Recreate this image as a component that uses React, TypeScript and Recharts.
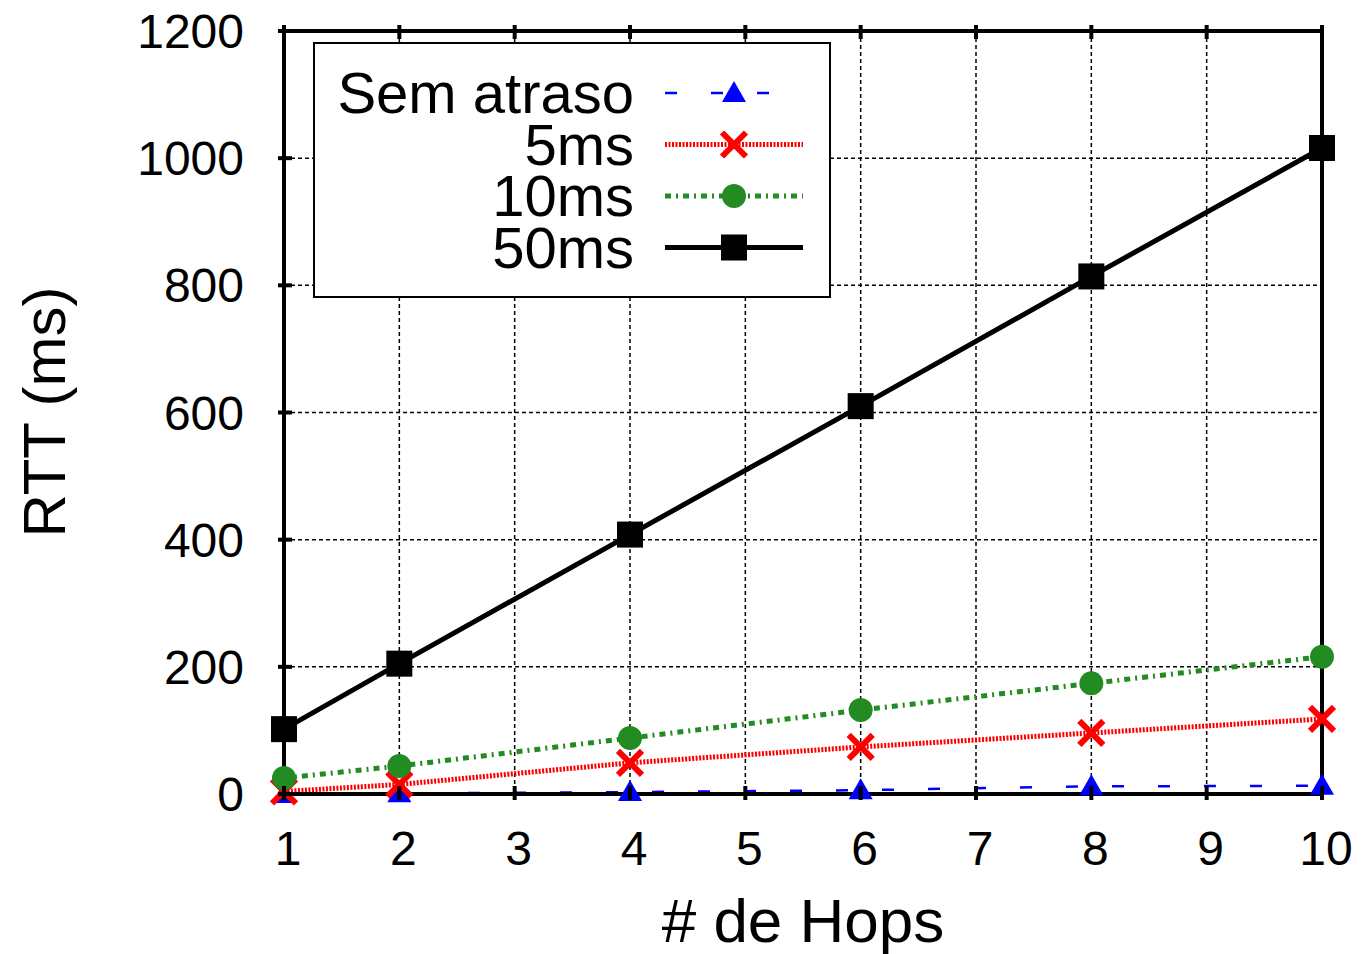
import { LineChart, Line, XAxis, YAxis, CartesianGrid } from "recharts";

const hops = [1, 2, 4, 6, 8, 10];
const semAtraso = [0, 1, 3, 6, 12, 13];
const ms5 = [4, 15, 49, 74, 96, 118];
const ms10 = [25, 44, 88, 132, 174, 216];
const ms50 = [102, 205, 408, 610, 814, 1016];

const xTicks = [1, 2, 3, 4, 5, 6, 7, 8, 9, 10];
const yTicks = [0, 200, 400, 600, 800, 1000, 1200];

const FONT = "'Liberation Sans', Arial, Helvetica, sans-serif";

const data = hops.map((h, i) => ({
  hop: h,
  sem: semAtraso[i],
  ms5: ms5[i],
  ms10: ms10[i],
  ms50: ms50[i],
}));

const Triangle = ({ cx, cy }: any) => (
  <polygon points={`${cx},${cy - 12} ${cx - 12},${cy + 9} ${cx + 12},${cy + 9}`} fill="#0000ff" />
);
const Cross = ({ cx, cy }: any) => (
  <g stroke="#ff0000" strokeWidth={6}>
    <line x1={cx - 12} y1={cy - 12} x2={cx + 12} y2={cy + 12} />
    <line x1={cx - 12} y1={cy + 12} x2={cx + 12} y2={cy - 12} />
  </g>
);
const Circle = ({ cx, cy }: any) => <circle cx={cx} cy={cy} r={12} fill="#228b22" />;
const Square = ({ cx, cy }: any) => <rect x={cx - 13} y={cy - 13} width={26} height={26} fill="#000" />;

const dotFn = (Comp: any) => (props: any) => <Comp key={props.key ?? `${props.cx}-${props.index}`} cx={props.cx} cy={props.cy} />;

const XTick = ({ x, y, payload }: any) => (
  <g>
    <line x1={x} y1={y - 2} x2={x} y2={y - 16} stroke="#000" strokeWidth={4} />
    <text x={x + 4} y={y + 63} textAnchor="middle" fontSize={48} fontFamily={FONT} fill="#000">
      {payload.value}
    </text>
  </g>
);

const YTick = ({ x, y, payload }: any) => (
  <g>
    <line x1={x + 2} y1={y} x2={x + 16} y2={y} stroke="#000" strokeWidth={4} />
    <text x={x - 32} y={y + 17} textAnchor="end" fontSize={48} fontFamily={FONT} fill="#000">
      {payload.value}
    </text>
  </g>
);

const XTopTick = ({ x, y }: any) => (
  <line x1={x} y1={y + 2} x2={x} y2={y + 16} stroke="#000" strokeWidth={4} />
);
const YRightTick = ({ x, y }: any) => (
  <line x1={x - 2} y1={y} x2={x - 16} y2={y} stroke="#000" strokeWidth={4} />
);

const legendRows = [
  { label: "Sem atraso", color: "#0000ff", dash: "12 34", width: 2.5, Marker: Triangle },
  { label: "5ms", color: "#ff0000", dash: "2 1.5", width: 5, Marker: Cross },
  { label: "10ms", color: "#228b22", dash: "6 5 2 5", width: 5, Marker: Circle },
  { label: "50ms", color: "#000000", dash: undefined, width: 5, Marker: Square },
];

const LegendBox = ({ x, y }: { x: number; y: number }) => (
  <g transform={`translate(${x},${y})`}>
    <rect x={1} y={1} width={516} height={254} fill="#fff" stroke="#000" strokeWidth={2} />
    {legendRows.map((r, i) => {
      const cy = 51 + i * 51.5;
      return (
        <g key={r.label}>
          <text x={321} y={cy + 20} textAnchor="end" fontSize={58} fontFamily={FONT} fill="#000">
            {r.label}
          </text>
          <line x1={352} y1={cy} x2={490} y2={cy} stroke={r.color} strokeWidth={r.width} strokeDasharray={r.dash} />
          <r.Marker cx={421} cy={cy} />
        </g>
      );
    })}
  </g>
);

export default function App() {
  return (
    <div style={{ position: "relative", width: 1353, height: 946, fontFamily: FONT }}>
      <LineChart
        width={1353}
        height={946}
        data={data}
        margin={{ top: 22, right: 38, left: 275, bottom: 159 }}
      >
        <CartesianGrid
          xAxisId="b"
          yAxisId="l"
          stroke="#000"
          strokeWidth={1.5}
          strokeDasharray="4 3"
          horizontalValues={yTicks}
          verticalValues={xTicks}
        />
        <XAxis
          xAxisId="b"
          dataKey="hop"
          type="number"
          domain={[1, 10]}
          ticks={xTicks}
          axisLine={{ stroke: "#000", strokeWidth: 4 }}
          tickLine={false}
          tick={<XTick />}
          height={1}
        />
        <XAxis
          xAxisId="t"
          orientation="top"
          dataKey="hop"
          type="number"
          domain={[1, 10]}
          ticks={xTicks}
          axisLine={{ stroke: "#000", strokeWidth: 4 }}
          tickLine={false}
          tick={<XTopTick />}
          height={1}
        />
        <YAxis
          yAxisId="l"
          type="number"
          domain={[0, 1200]}
          ticks={yTicks}
          axisLine={{ stroke: "#000", strokeWidth: 4 }}
          tickLine={false}
          tick={<YTick />}
          width={1}
        />
        <YAxis
          yAxisId="r"
          orientation="right"
          type="number"
          domain={[0, 1200]}
          ticks={yTicks}
          axisLine={{ stroke: "#000", strokeWidth: 4 }}
          tickLine={false}
          tick={<YRightTick />}
          width={1}
        />
        <Line
          xAxisId="b"
          yAxisId="l"
          dataKey="sem"
          stroke="#0000ff"
          strokeWidth={2.5}
          strokeDasharray="12 34"
          dot={dotFn(Triangle)}
          isAnimationActive={false}
        />
        <Line
          xAxisId="b"
          yAxisId="l"
          dataKey="ms5"
          stroke="#ff0000"
          strokeWidth={5}
          strokeDasharray="2 1.5"
          dot={dotFn(Cross)}
          isAnimationActive={false}
        />
        <Line
          xAxisId="b"
          yAxisId="l"
          dataKey="ms10"
          stroke="#228b22"
          strokeWidth={5}
          strokeDasharray="6 5 2 5"
          dot={dotFn(Circle)}
          isAnimationActive={false}
        />
        <Line
          xAxisId="b"
          yAxisId="l"
          dataKey="ms50"
          stroke="#000"
          strokeWidth={5}
          dot={dotFn(Square)}
          isAnimationActive={false}
        />
      </LineChart>
      <svg
        width={1353}
        height={946}
        style={{ position: "absolute", left: 0, top: 0, pointerEvents: "none" }}
      >
        <LegendBox x={305} y={34} />
        <text x={795} y={934} textAnchor="middle" fontSize={62} fontFamily={FONT} fill="#000">
          # de Hops
        </text>
        <text
          transform="translate(57,404) rotate(-90)"
          textAnchor="middle"
          fontSize={60}
          fontFamily={FONT}
          fill="#000"
        >
          RTT (ms)
        </text>
      </svg>
    </div>
  );
}
